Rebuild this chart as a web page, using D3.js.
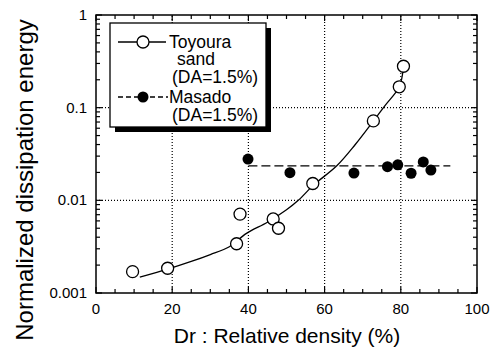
<!DOCTYPE html>
<html>
<head>
<meta charset="utf-8">
<script src="https://cdn.jsdelivr.net/npm/d3@7"></script>
<style>
  body { margin: 0; background: #fff; }
  text { font-family: "Liberation Sans", Arial, sans-serif; fill: #000; }
</style>
</head>
<body>
<div id="chart"></div>
<script>
// Toyoura sand (open circles)
const toyouraDr = [9.6, 18.8, 36.9, 37.8, 46.5, 47.9, 56.9, 72.8, 79.6, 80.7];
const toyouraE = [0.0017, 0.00185, 0.0034, 0.0071, 0.0063, 0.0050, 0.0152, 0.072, 0.168, 0.28];
// fitted curve through Toyoura
const toyFitDr = [11.5, 19, 25, 30, 35, 39.5, 45, 50, 53.1, 57, 63.2, 68, 72.8, 76, 79.6, 80.7];
const toyFitE = [0.00148, 0.00182, 0.00219, 0.0026, 0.00316, 0.0044, 0.0058, 0.0079, 0.01, 0.0145, 0.0236, 0.0398, 0.0717, 0.107, 0.168, 0.275];
// Masado (filled circles)
const masadoDr = [39.9, 50.9, 67.7, 76.5, 79.2, 82.7, 85.9, 87.9];
const masadoE = [0.0279, 0.0199, 0.0197, 0.0231, 0.0242, 0.0196, 0.026, 0.0212];
const masadoFitDr = [40, 93];
const masadoFitE = [0.0236, 0.0236];

const xTicks = [0, 20, 40, 60, 80, 100];
const yTicks = [0.001, 0.01, 0.1, 1];
const yTickLabels = ["0.001", "0.01", "0.1", "1"];

const width = 501, height = 351;
const m = { left: 96, right: 24, top: 15, bottom: 58 };

const svg = d3.select("#chart").append("svg")
  .attr("width", width)
  .attr("height", height);

const x = d3.scaleLinear().domain([0, 100]).range([m.left, width - m.right]);
const y = d3.scaleLog().domain([0.001, 1]).range([height - m.bottom, m.top]);
const x0 = x(0), x1 = x(100), y0 = y(0.001), y1 = y(1);

// dotted grid
const grid = svg.append("g").attr("stroke", "#000").attr("stroke-width", 1.2).attr("stroke-dasharray", "1,2");
grid.selectAll(".gx").data([20, 40, 60, 80]).enter().append("line")
  .attr("x1", d => x(d)).attr("x2", d => x(d)).attr("y1", y0).attr("y2", y1);
grid.selectAll(".gy").data([0.01, 0.1]).enter().append("line")
  .attr("x1", x0).attr("x2", x1).attr("y1", d => y(d)).attr("y2", d => y(d));

// ticks (inward, all four sides)
const ticks = svg.append("g").attr("stroke", "#000").attr("stroke-width", 1.2);
const xMinor = d3.range(0, 101, 5);
xMinor.forEach(v => {
  const len = v % 20 === 0 ? 6 : 4;
  ticks.append("line").attr("x1", x(v)).attr("x2", x(v)).attr("y1", y0).attr("y2", y0 - len);
  ticks.append("line").attr("x1", x(v)).attr("x2", x(v)).attr("y1", y1).attr("y2", y1 + len);
});
const yMinor = [];
[0.001, 0.01, 0.1].forEach(d => { for (let k = 1; k <= 9; k++) yMinor.push(d * k); });
yMinor.push(1);
yMinor.forEach(v => {
  const major = yTicks.some(t => Math.abs(t - v) < 1e-9);
  const len = major ? 6 : 4;
  ticks.append("line").attr("x1", x0).attr("x2", x0 + len).attr("y1", y(v)).attr("y2", y(v));
  ticks.append("line").attr("x1", x1).attr("x2", x1 - len).attr("y1", y(v)).attr("y2", y(v));
});

// frame
svg.append("rect")
  .attr("x", x0).attr("y", y1).attr("width", x1 - x0).attr("height", y0 - y1)
  .attr("fill", "none").attr("stroke", "#000").attr("stroke-width", 1.5);

// tick labels
svg.selectAll(".xl").data(xTicks).enter().append("text")
  .attr("x", d => x(d)).attr("y", y0 + 21)
  .attr("text-anchor", "middle").attr("font-size", 15)
  .text(d => d);
svg.selectAll(".yl").data(yTicks).enter().append("text")
  .attr("x", x0 - 9).attr("y", d => y(d) + 5)
  .attr("text-anchor", "end").attr("font-size", 15)
  .text((d, i) => yTickLabels[i]);

// axis titles
svg.append("text")
  .attr("x", 287).attr("y", 343)
  .attr("text-anchor", "middle").attr("font-size", 21)
  .text("Dr : Relative density (%)");
svg.append("text")
  .attr("transform", "translate(33,180) rotate(-90)")
  .attr("text-anchor", "middle").attr("font-size", 24)
  .text("Normalized  dissipation  energy");

// fitted lines
const line = d3.line().x(d => x(d[0])).y(d => y(d[1]));
svg.append("path")
  .datum(toyFitDr.map((d, i) => [d, toyFitE[i]]))
  .attr("d", line.curve(d3.curveCatmullRom))
  .attr("fill", "none").attr("stroke", "#000").attr("stroke-width", 1.3);
svg.append("path")
  .datum(masadoFitDr.map((d, i) => [d, masadoFitE[i]]))
  .attr("d", d3.line().x(d => x(d[0])).y(d => y(d[1])))
  .attr("fill", "none").attr("stroke", "#000").attr("stroke-width", 1.3)
  .attr("stroke-dasharray", "9,4");

// points
svg.selectAll(".toy").data(toyouraDr).enter().append("circle")
  .attr("cx", d => x(d)).attr("cy", (d, i) => y(toyouraE[i]))
  .attr("r", 6).attr("fill", "#fff").attr("stroke", "#000").attr("stroke-width", 1.3);
svg.selectAll(".mas").data(masadoDr).enter().append("circle")
  .attr("cx", d => x(d)).attr("cy", (d, i) => y(masadoE[i]))
  .attr("r", 5.5).attr("fill", "#000");

// legend
const lg = svg.append("g");
lg.append("rect").attr("x", 115).attr("y", 28).attr("width", 156).attr("height", 104).attr("fill", "#000");
lg.append("rect").attr("x", 110).attr("y", 23).attr("width", 156).attr("height", 104)
  .attr("fill", "#fff").attr("stroke", "#000").attr("stroke-width", 1.3);

lg.append("line").attr("x1", 118).attr("x2", 166).attr("y1", 42).attr("y2", 42)
  .attr("stroke", "#000").attr("stroke-width", 1.3);
lg.append("circle").attr("cx", 143).attr("cy", 42).attr("r", 6)
  .attr("fill", "#fff").attr("stroke", "#000").attr("stroke-width", 1.3);
lg.append("line").attr("x1", 118).attr("x2", 168).attr("y1", 97).attr("y2", 97)
  .attr("stroke", "#000").attr("stroke-width", 1.3).attr("stroke-dasharray", "5,3");
lg.append("circle").attr("cx", 143).attr("cy", 97).attr("r", 5.5).attr("fill", "#000");

const legendText = [
  { t: "Toyoura", x: 169, y: 48 },
  { t: "sand", x: 177, y: 65 },
  { t: "(DA=1.5%)", x: 172, y: 83 },
  { t: "Masado", x: 169, y: 103 },
  { t: "(DA=1.5%)", x: 172, y: 121 }
];
lg.selectAll(".lt").data(legendText).enter().append("text")
  .attr("x", d => d.x).attr("y", d => d.y)
  .attr("font-size", 17.5)
  .text(d => d.t);
</script>
</body>
</html>
